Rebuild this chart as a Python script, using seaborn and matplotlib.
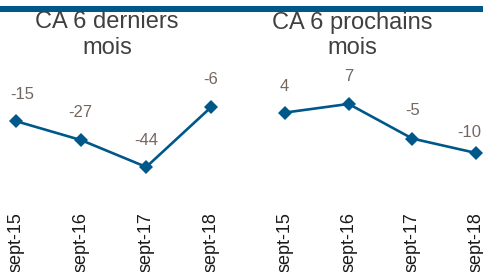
import numpy as np
import pandas as pd
import matplotlib.pyplot as plt
import seaborn as sns

# data
periodes = ['sept-15', 'sept-16', 'sept-17', 'sept-18']
ca_6_derniers = [-15, -27, -44, -6]
ca_6_prochains = [4, 7, -5, -10]
titres = ['CA 6 derniers\nmois', 'CA 6 prochains\nmois']

sns.set_style('white')
plt.rcParams['font.family'] = ['Liberation Sans', 'DejaVu Sans']

W, H = 483, 272
fig = plt.figure(figsize=(W / 100, H / 100), dpi=100)

bleu = '#00578a'
gris_titre = '#404040'
gris_label = '#74675f'

# blue band on top
fig.add_artist(plt.Rectangle((0, 1 - 12 / H), 1, 6 / H, transform=fig.transFigure,
                             color=bleu, lw=0))

# axes layout in pixels: (left, width, xlim, ylim, title x in axes frac)
layouts = [
    (0, 227.5, (-0.25, 3.25), (-64.9, 20.6), 0.47),
    (262, 221, (-0.36, 3.11), (-26.3, 20.5), 0.407),
]
# label offsets in points (dx, dy)
offsets = [
    [(4, 19.5), (-0.5, 20), (0, 19), (-0.5, 19.5)],
    [(-0.5, 19), (0, 20), (0, 20), (-4.5, 14.5)],
]

for i, values in enumerate([ca_6_derniers, ca_6_prochains]):
    left, width, xlim, ylim, tx = layouts[i]
    ax = fig.add_axes([left / W, (H - 200) / H, width / W, 135 / H])
    df = pd.DataFrame({'x': np.arange(len(periodes)), 'y': values})
    sns.lineplot(data=df, x='x', y='y', ax=ax, color=bleu, lw=1.9,
                 marker='D', markersize=7.5, markeredgewidth=0, clip_on=False)
    for j, v in enumerate(values):
        ax.annotate(str(v), (j, v), xytext=offsets[i][j], textcoords='offset points',
                    ha='center', va='center', fontsize=12, color=gris_label)
    ax.set_xlim(*xlim)
    ax.set_ylim(*ylim)
    ax.set_xticks(np.arange(len(periodes)))
    ax.set_xticklabels(periodes, rotation=90, fontsize=13, color='#1a1a1a', va='top')
    ax.tick_params(axis='x', length=0, pad=9)
    ax.set_yticks([])
    ax.set_xlabel('')
    ax.set_ylabel('')
    sns.despine(ax=ax, left=True, bottom=True)
    ax.patch.set_alpha(0)
    fig.text((left + tx * width) / W, 1 - 11.5 / H, titres[i], ha='center', va='top',
             fontsize=17, color=gris_titre, linespacing=1.2)

fig.savefig('out.png', dpi=100)
